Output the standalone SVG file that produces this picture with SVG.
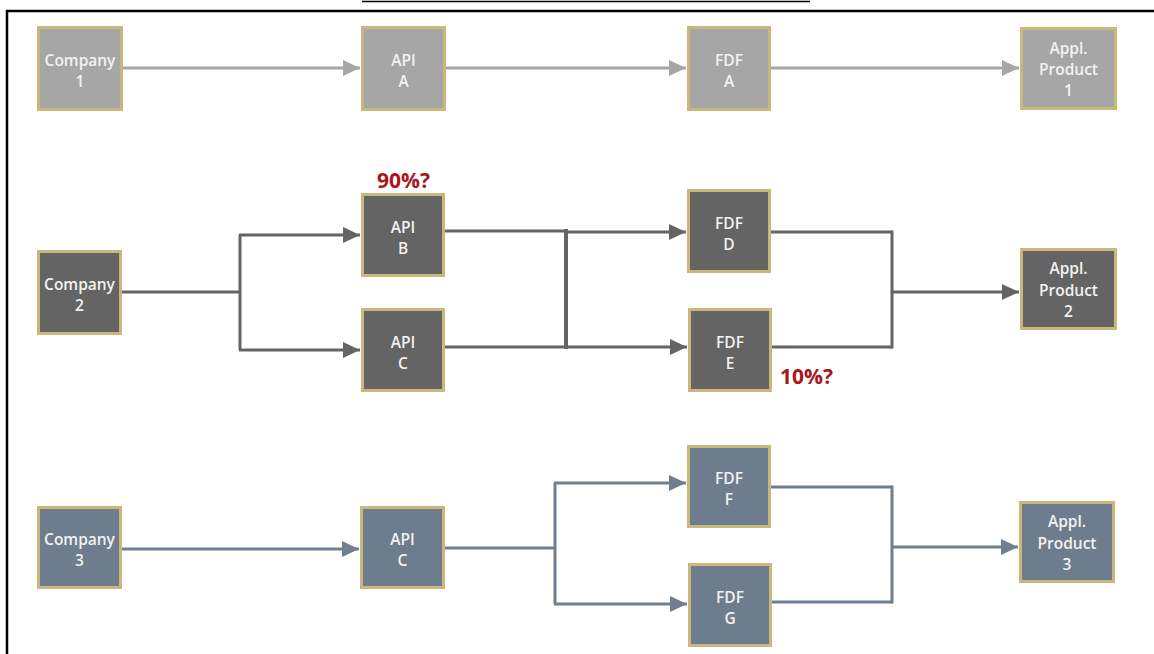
<svg xmlns="http://www.w3.org/2000/svg" width="1154" height="654" viewBox="0 0 1154 654">
<style>
.box{stroke:#c9b77c;stroke-width:3}
.r1{fill:#a6a6a6}.r2{fill:#646464}.r3{fill:#6d7d8e}
.t{font-family:"Open Sans","Liberation Sans",sans-serif;font-weight:600;font-size:15.5px;fill:#f2f2f2;text-anchor:middle}
.pct{font-family:"Open Sans","Liberation Sans",sans-serif;font-weight:700;font-size:21px;fill:#a8161b}
.c1{stroke:#a6a6a6;stroke-width:3;fill:none}
.c2{stroke:#646464;stroke-width:3;fill:none}
.c3{stroke:#6f7f90;stroke-width:3;fill:none}
</style>
<defs>
<marker id="a1" markerUnits="userSpaceOnUse" markerWidth="18" markerHeight="18" refX="17" refY="9" orient="auto"><path d="M0,1 L17,9 L0,17 Z" fill="#a6a6a6"/></marker>
<marker id="a2" markerUnits="userSpaceOnUse" markerWidth="18" markerHeight="18" refX="17" refY="9" orient="auto"><path d="M0,1 L17,9 L0,17 Z" fill="#646464"/></marker>
<marker id="a3" markerUnits="userSpaceOnUse" markerWidth="18" markerHeight="18" refX="17" refY="9" orient="auto"><path d="M0,1 L17,9 L0,17 Z" fill="#6f7f90"/></marker>
</defs>
<rect width="1154" height="654" fill="#ffffff"/>
<line x1="362" y1="1.5" x2="810" y2="1.5" stroke="#000" stroke-width="1.5"/>
<path d="M7,654 V11 H1154" fill="none" stroke="#000" stroke-width="2.5"/>

<g id="connectors">
<line class="c1" x1="123" y1="68" x2="360" y2="68" marker-end="url(#a1)"/>
<line class="c1" x1="446" y1="68" x2="686" y2="68" marker-end="url(#a1)"/>
<line class="c1" x1="771" y1="68" x2="1019" y2="68" marker-end="url(#a1)"/>

<line class="c2" x1="122" y1="292" x2="240" y2="292"/>
<line class="c2" x1="240" y1="235" x2="240" y2="350"/>
<line class="c2" x1="239" y1="235" x2="360" y2="235" marker-end="url(#a2)"/>
<line class="c2" x1="239" y1="350" x2="360" y2="350" marker-end="url(#a2)"/>
<line class="c2" x1="445" y1="231" x2="566" y2="231"/>
<line class="c2" x1="445" y1="347" x2="566" y2="347"/>
<line class="c2" x1="566" y1="229" x2="566" y2="349" style="stroke-width:4"/>
<line class="c2" x1="566" y1="232" x2="686" y2="232" marker-end="url(#a2)"/>
<line class="c2" x1="566" y1="347" x2="687" y2="347" marker-end="url(#a2)"/>
<line class="c2" x1="771" y1="232" x2="892" y2="232"/>
<line class="c2" x1="772" y1="347" x2="892" y2="347"/>
<line class="c2" x1="892" y1="230.5" x2="892" y2="348.5"/>
<line class="c2" x1="892" y1="292" x2="1019" y2="292" marker-end="url(#a2)"/>

<line class="c3" x1="122" y1="549" x2="359" y2="549" marker-end="url(#a3)"/>
<line class="c3" x1="445" y1="548" x2="555" y2="548"/>
<line class="c3" x1="555" y1="483" x2="555" y2="604"/>
<line class="c3" x1="554" y1="483" x2="686" y2="483" marker-end="url(#a3)"/>
<line class="c3" x1="554" y1="604" x2="687" y2="604" marker-end="url(#a3)"/>
<line class="c3" x1="771" y1="487" x2="892" y2="487"/>
<line class="c3" x1="772" y1="602" x2="892" y2="602"/>
<line class="c3" x1="892" y1="485.5" x2="892" y2="603.5"/>
<line class="c3" x1="892" y1="547" x2="1018" y2="547" marker-end="url(#a3)"/>
</g>

<g id="company1"><rect class="box r1" x="38.5" y="27.5" width="83" height="82"/><text class="t" x="80" y="66">Company</text><text class="t" x="80" y="87.2">1</text></g>
<g id="apiA"><rect class="box r1" x="362.5" y="27.5" width="82" height="82"/><text class="t" x="403.5" y="66">API</text><text class="t" x="403.5" y="87.2">A</text></g>
<g id="fdfA"><rect class="box r1" x="688.5" y="27.5" width="81" height="82"/><text class="t" x="729" y="66">FDF</text><text class="t" x="729" y="87.2">A</text></g>
<g id="product1"><rect class="box r1" x="1021.5" y="28.5" width="94" height="80"/><text class="t" x="1068.5" y="54">Appl.</text><text class="t" x="1068.5" y="75.2">Product</text><text class="t" x="1068.5" y="96.4">1</text></g>

<g id="company2"><rect class="box r2" x="38.5" y="251.5" width="82" height="82"/><text class="t" x="79.5" y="290">Company</text><text class="t" x="79.5" y="311.2">2</text></g>
<g id="apiB"><rect class="box r2" x="362.5" y="194.5" width="81" height="81"/><text class="t" x="403" y="232.5">API</text><text class="t" x="403" y="253.7">B</text></g>
<g id="apiC2"><rect class="box r2" x="362.5" y="309.5" width="81" height="81"/><text class="t" x="403" y="347.5">API</text><text class="t" x="403" y="368.7">C</text></g>
<g id="fdfD"><rect class="box r2" x="688.5" y="190.5" width="81" height="81"/><text class="t" x="729" y="228.5">FDF</text><text class="t" x="729" y="249.7">D</text></g>
<g id="fdfE"><rect class="box r2" x="689.5" y="309.5" width="81" height="81"/><text class="t" x="730" y="347.5">FDF</text><text class="t" x="730" y="368.7">E</text></g>
<g id="product2"><rect class="box r2" x="1021.5" y="249.5" width="94" height="79"/><text class="t" x="1068.5" y="274.3">Appl.</text><text class="t" x="1068.5" y="295.5">Product</text><text class="t" x="1068.5" y="316.7">2</text></g>

<g id="company3"><rect class="box r3" x="38.5" y="507.5" width="82" height="80"/><text class="t" x="79.5" y="545">Company</text><text class="t" x="79.5" y="566.2">3</text></g>
<g id="apiC3"><rect class="box r3" x="361.5" y="507.5" width="82" height="80"/><text class="t" x="402.5" y="545">API</text><text class="t" x="402.5" y="566.2">C</text></g>
<g id="fdfF"><rect class="box r3" x="688.5" y="446.5" width="81" height="80"/><text class="t" x="729" y="484">FDF</text><text class="t" x="729" y="505.2">F</text></g>
<g id="fdfG"><rect class="box r3" x="689.5" y="564.5" width="81" height="81"/><text class="t" x="730" y="602.5">FDF</text><text class="t" x="730" y="623.7">G</text></g>
<g id="product3"><rect class="box r3" x="1020.5" y="502.5" width="93" height="79"/><text class="t" x="1067" y="527.3">Appl.</text><text class="t" x="1067" y="548.5">Product</text><text class="t" x="1067" y="569.7">3</text></g>

<g id="labels">
<text class="pct" x="377" y="188">90%?</text>
<text class="pct" x="780" y="384">10%?</text>
</g>
</svg>
